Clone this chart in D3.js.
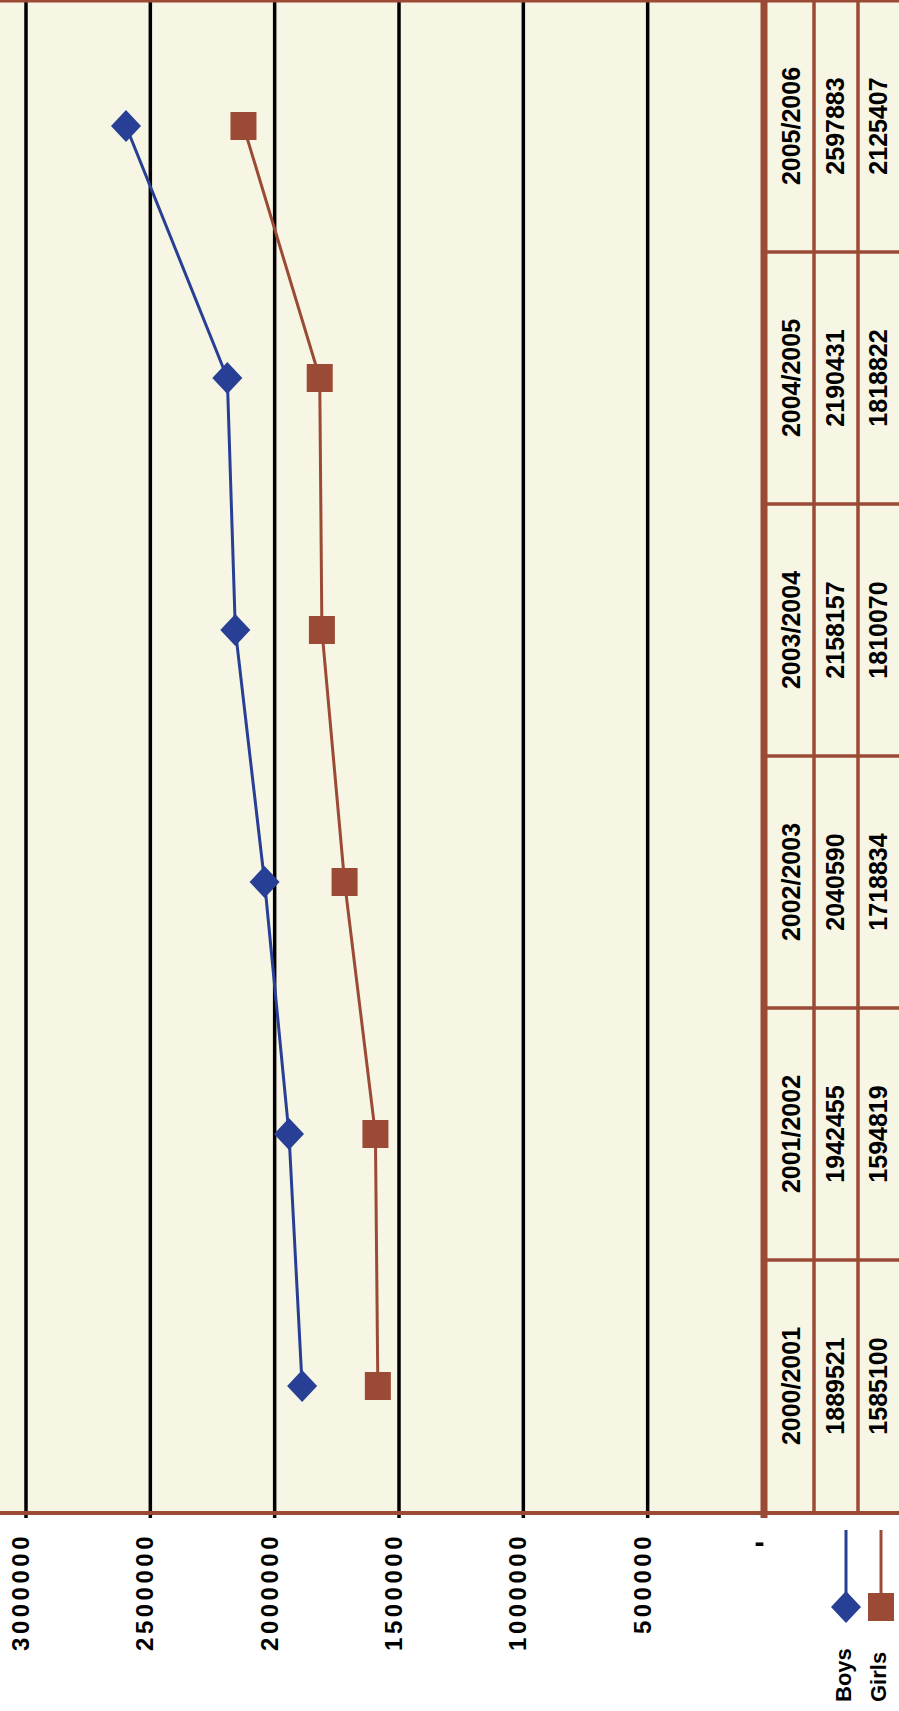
<!DOCTYPE html>
<html>
<head>
<meta charset="utf-8">
<script src="https://cdn.jsdelivr.net/npm/d3@7"></script>
<style>
  body { margin: 0; background: #fff; }
  svg { display: block; }
  text { font-family: "Liberation Sans", Arial, sans-serif; font-weight: bold; fill: #000; }
</style>
</head>
<body>
<script>
// data
var years = ["2000/2001", "2001/2002", "2002/2003", "2003/2004", "2004/2005", "2005/2006"];
var boys = [1889521, 1942455, 2040590, 2158157, 2190431, 2597883];
var girls = [1585100, 1594819, 1718834, 1810070, 1818822, 2125407];
var seriesNames = ["Boys", "Girls"];
var valueTicks = [0, 500000, 1000000, 1500000, 2000000, 2500000, 3000000];

var W = 899, H = 1711;
var blue = "#273f95", brown = "#9b4a35", cream = "#f7f5e3";

// the chart is laid out upright in a 1711 x 899 frame, then turned a quarter turn
var fh = W;
var plotLeft = 199, plotRight = 1711, axisY = 764;
var rowCat = 791, rowBoys = 835, rowGirls = 878;

var svg = d3.select("body").append("svg")
    .attr("width", W)
    .attr("height", H);

svg.append("rect").attr("width", W).attr("height", H).attr("fill", "#fff");

var chart = svg.append("g")
    .attr("transform", "translate(0," + H + ") rotate(-90)");

var x = d3.scaleBand().domain(years).range([plotLeft, plotRight]);
var y = d3.scaleLinear().domain([0, 3000000]).range([772, 26]);
var cx = function(d) { return x(d) + x.bandwidth() / 2; };

// plot + table background
chart.append("rect")
    .attr("x", plotLeft)
    .attr("y", -20)
    .attr("width", plotRight - plotLeft + 10)
    .attr("height", fh + 40)
    .attr("fill", cream);

// gridlines (run a little past the left border as ticks)
valueTicks.filter(function(v) { return v > 0; }).forEach(function(v) {
    chart.append("line")
        .attr("x1", plotLeft - 6)
        .attr("x2", plotRight)
        .attr("y1", y(v))
        .attr("y2", y(v))
        .attr("stroke", "#000")
        .attr("stroke-width", 3.5);
});

// value axis labels
var yAxis = d3.axisLeft(y)
    .tickValues(valueTicks)
    .tickSize(0)
    .tickPadding(0)
    .tickFormat(function(d) { return d === 0 ? "-" : d3.format("d")(d); });

var yG = chart.append("g")
    .attr("transform", "translate(178,0)")
    .call(yAxis);
yG.select(".domain").remove();
yG.selectAll("text")
    .attr("dy", "0.35em")
    .attr("y", -6)
    .style("font-family", "'Liberation Sans', Arial, sans-serif")
    .style("font-weight", "bold")
    .style("font-size", "24px")
    .style("letter-spacing", "3.5px");
yG.selectAll(".tick")
    .filter(function(d) { return d === 0; })
    .attr("transform", "translate(0," + axisY + ")")
    .select("text")
    .attr("y", 0)
    .attr("x", -4)
    .attr("transform", "rotate(90,-8,0)")
    .style("font-size", "30px");

// borders
chart.append("line")
    .attr("x1", plotLeft - 1).attr("x2", plotLeft - 1)
    .attr("y1", -20).attr("y2", fh + 20)
    .attr("stroke", brown).attr("stroke-width", 4);

chart.append("line")
    .attr("x1", plotRight - 1).attr("x2", plotRight - 1)
    .attr("y1", -20).attr("y2", fh + 20)
    .attr("stroke", brown).attr("stroke-width", 3);

// category axis / top of data table
chart.append("line")
    .attr("x1", plotLeft - 6).attr("x2", plotRight)
    .attr("y1", axisY).attr("y2", axisY)
    .attr("stroke", brown).attr("stroke-width", 7);

// table rows
[rowBoys - 21, rowGirls - 20].forEach(function(ry) {
    chart.append("line")
        .attr("x1", plotLeft - 1).attr("x2", plotRight)
        .attr("y1", ry).attr("y2", ry)
        .attr("stroke", brown).attr("stroke-width", 3.5);
});

// table columns
years.slice(1).forEach(function(yr) {
    chart.append("line")
        .attr("x1", x(yr)).attr("x2", x(yr))
        .attr("y1", axisY).attr("y2", fh + 20)
        .attr("stroke", brown).attr("stroke-width", 3.5);
});

// table text
var tableFont = "25px";
chart.selectAll(".cat-label")
    .data(years)
    .enter()
    .append("text")
        .attr("class", "cat-label")
        .attr("x", cx)
        .attr("y", rowCat)
        .attr("text-anchor", "middle")
        .attr("dominant-baseline", "central")
        .style("font-size", tableFont)
        .text(function(d) { return d; });

[boys, girls].forEach(function(vals, si) {
    chart.selectAll(".val-" + si)
        .data(vals)
        .enter()
        .append("text")
            .attr("class", "val-" + si)
            .attr("x", function(d, i) { return cx(years[i]); })
            .attr("y", si === 0 ? rowBoys : rowGirls)
            .attr("text-anchor", "middle")
            .attr("dominant-baseline", "central")
            .style("font-size", tableFont)
            .text(function(d) { return d; });
});

// series lines and markers
var diamond = "M-16,0L0,-15L16,0L0,15Z";
var square = "M-14,-13H14V13H-14Z";

var series = [
    {name: seriesNames[0], values: boys, color: blue, shape: diamond},
    {name: seriesNames[1], values: girls, color: brown, shape: square}
];

var line = d3.line()
    .x(function(d, i) { return cx(years[i]); })
    .y(function(d) { return y(d); });

series.forEach(function(s) {
    chart.append("path")
        .datum(s.values)
        .attr("d", line)
        .attr("fill", "none")
        .attr("stroke", s.color)
        .attr("stroke-width", 3);

    chart.selectAll(".pt-" + s.name)
        .data(s.values)
        .enter()
        .append("path")
            .attr("class", "pt-" + s.name)
            .attr("d", s.shape)
            .attr("transform", function(d, i) { return "translate(" + cx(years[i]) + "," + y(d) + ")"; })
            .attr("fill", s.color);
});

// legend keys beside the table rows
var legendY = [846, 881];
series.forEach(function(s, i) {
    chart.append("line")
        .attr("x1", 104).attr("x2", 181)
        .attr("y1", legendY[i]).attr("y2", legendY[i])
        .attr("stroke", s.color)
        .attr("stroke-width", 3);
    chart.append("path")
        .attr("d", s.shape)
        .attr("transform", "translate(104," + legendY[i] + ")")
        .attr("fill", s.color);
    chart.append("text")
        .attr("x", 9)
        .attr("y", legendY[i] - 3)
        .attr("dominant-baseline", "central")
        .style("font-size", "22px")
        .text(s.name);
});
</script>
</body>
</html>
